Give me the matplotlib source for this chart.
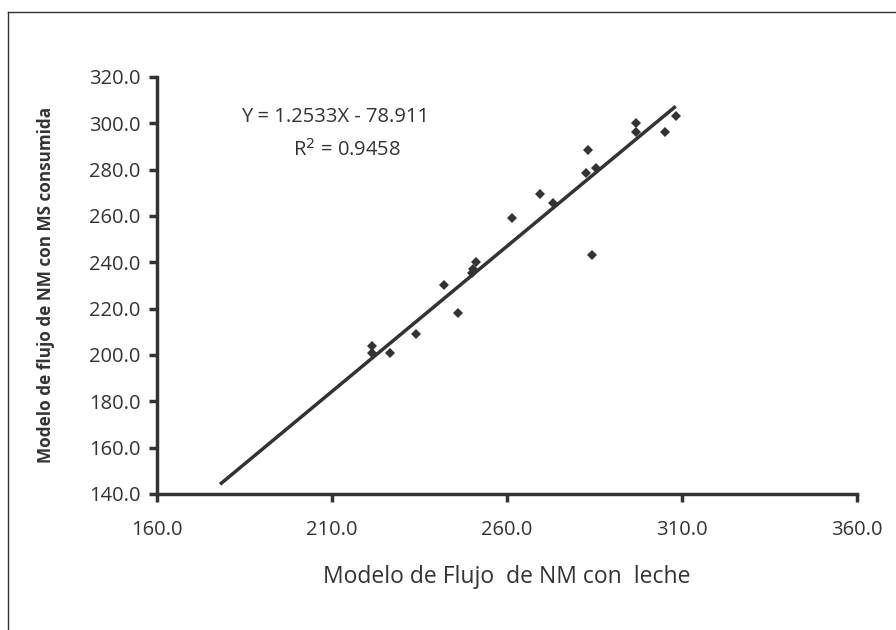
import matplotlib.pyplot as plt
import numpy as np
from matplotlib.lines import Line2D

# Data
x_leche = [221.3, 221.3, 226.6, 234.0, 242.1, 245.9, 249.9, 250.2, 251.1, 261.4,
           269.4, 273.2, 282.5, 285.4, 283.1, 284.2, 296.8, 296.8, 305.1, 308.2]
y_ms = [203.9, 200.7, 201.0, 208.9, 230.2, 218.0, 235.3, 237.0, 240.3, 259.3,
        269.4, 265.7, 278.7, 280.6, 288.5, 243.3, 300.3, 296.1, 296.1, 303.2]
slope, intercept = 1.2533, -78.911
fit_range = [178.0, 308.2]

x_ticks = [160, 210, 260, 310, 360]
y_ticks = np.arange(140, 321, 20)

dark = '#333333'
plt.rcParams['font.family'] = ['Open Sans', 'DejaVu Sans']

fig = plt.figure(figsize=(8.96, 6.3), dpi=100)
ax = fig.add_axes([157 / 896, 1 - 494 / 630, 700 / 896, 417 / 630])

xf = np.array(fit_range)
ax.plot(xf, slope * xf + intercept, color=dark, lw=2.5, solid_capstyle='butt')
ax.plot(x_leche, y_ms, 'D', color=dark, ms=5.5, mew=0)

ax.set_xlim(160, 360)
ax.set_ylim(140, 320)
ax.set_xticks(x_ticks)
ax.set_yticks(y_ticks)
ax.set_xticklabels([f"{v:.1f}" for v in x_ticks])
ax.set_yticklabels([f"{v:.1f}" for v in y_ticks])

for side in ['top', 'right']:
    ax.spines[side].set_visible(False)
for side in ['left', 'bottom']:
    ax.spines[side].set_color(dark)
    ax.spines[side].set_linewidth(2.5)
ax.tick_params(axis='both', colors=dark, width=2.5, length=6, labelsize=14.5,
               labelcolor=dark, direction='out')
ax.tick_params(axis='x', pad=13)
ax.tick_params(axis='y', pad=6)

ax.text(0.254, 0.904, 'Y = 1.2533X - 78.911', transform=ax.transAxes,
        ha='center', va='center', fontsize=14.5, color=dark)
ax.text(0.272, 0.825, 'R$^{2}$ = 0.9458', transform=ax.transAxes,
        ha='center', va='center', fontsize=14.5, color=dark)

fig.text(507 / 896, 1 - 577 / 630, 'Modelo de Flujo  de NM con  leche',
         ha='center', va='center', fontsize=16.5, color=dark)
fig.text(46 / 896, 1 - 285 / 630, 'Modelo de flujo de NM con MS consumida',
         ha='center', va='center', rotation=90, fontsize=12.3,
         fontweight='bold', color=dark)

# partial frame (left and top)
fig.add_artist(Line2D([8 / 896, 8 / 896], [0, 1 - 12 / 630], color=dark, lw=1,
                      transform=fig.transFigure))
fig.add_artist(Line2D([8 / 896, 1], [1 - 12 / 630, 1 - 12 / 630], color=dark, lw=1,
                      transform=fig.transFigure))

fig.savefig('out.png', dpi=100)
